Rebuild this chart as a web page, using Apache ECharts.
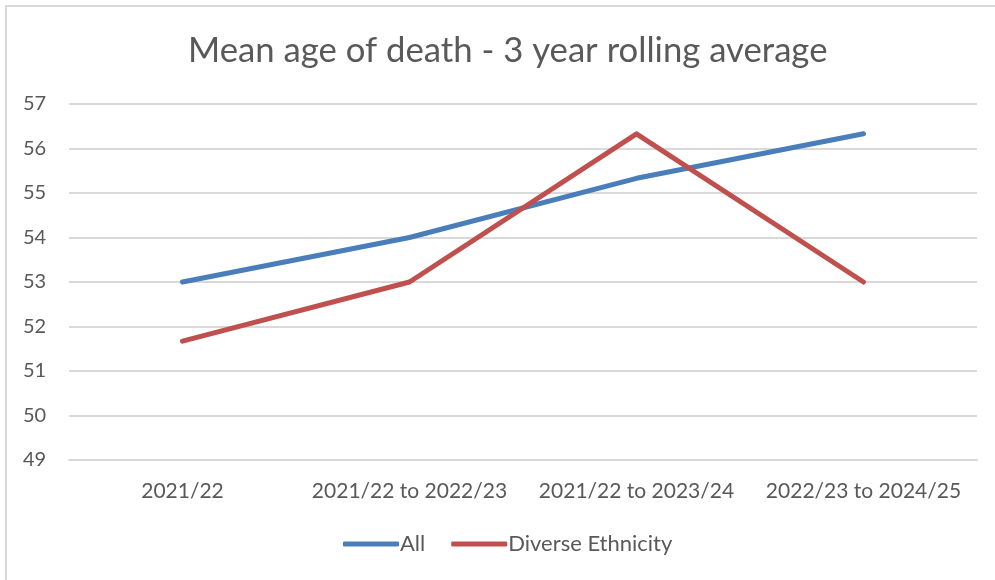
<!DOCTYPE html>
<html>
<head>
<meta charset="utf-8">
<script src="https://cdn.jsdelivr.net/npm/echarts@6/dist/echarts.min.js"></script>
<style>
  html, body { margin: 0; padding: 0; background: #fff; }
  #frame { position: absolute; left: 5px; top: 5px; width: 1000px; height: 590px;
           border-left: 2px solid #d9d9d9; border-top: 2px solid #d9d9d9; }
  #chart { position: absolute; left: 0; top: 0; width: 995px; height: 580px; }
</style>
</head>
<body>
<div id="frame"></div>
<div id="chart"></div>
<script>
const categories = ['2021/22', '2021/22 to 2022/23', '2021/22 to 2023/24', '2022/23 to 2024/25'];
const allValues = [53.0, 54.0, 55.33, 56.33];
const diverseValues = [51.67, 53.0, 56.33, 53.0];
const seriesNames = ['All', 'Diverse Ethnicity'];

const FONT = 'Lato, "Open Sans", sans-serif';
const TEXT = '#595959';

const chart = echarts.init(document.getElementById('chart'), null, { renderer: 'canvas' });
chart.setOption({
  backgroundColor: 'transparent',
  animation: false,
  title: {
    text: 'Mean age of death - 3 year rolling average',
    left: 183,
    top: 28,
    textStyle: { fontFamily: FONT, fontSize: 34.7, fontWeight: 'normal', color: TEXT }
  },
  legend: {
    bottom: 20,
    left: 338,
    itemWidth: 56,
    itemHeight: 5,
    itemGap: 26,
    icon: 'roundRect',
    textStyle: { fontFamily: FONT, fontSize: 22, color: TEXT, padding: [0, 0, 0, -4] },
    data: seriesNames
  },
  grid: { left: 69, right: 18, top: 104, bottom: 120 },
  xAxis: {
    type: 'category',
    data: categories,
    boundaryGap: true,
    axisLine: { show: true, lineStyle: { color: '#d9d9d9', width: 2 } },
    axisTick: { show: false },
    axisLabel: { interval: 0, fontFamily: FONT, fontSize: 21, color: TEXT, margin: 21 }
  },
  yAxis: {
    type: 'value',
    min: 49,
    max: 57,
    interval: 1,
    axisLine: { show: false },
    axisTick: { show: false },
    axisLabel: { fontFamily: FONT, fontSize: 20, color: TEXT, margin: 46, align: 'left' },
    splitLine: { lineStyle: { color: '#d9d9d9', width: 2 } }
  },
  series: [
    {
      name: seriesNames[0], type: 'line', data: allValues,
      symbol: 'none', lineStyle: { color: '#4a7ebb', width: 5, cap: 'round', join: 'round' },
      itemStyle: { color: '#4a7ebb' }
    },
    {
      name: seriesNames[1], type: 'line', data: diverseValues,
      symbol: 'none', lineStyle: { color: '#c0504d', width: 5, cap: 'round', join: 'round' },
      itemStyle: { color: '#c0504d' }
    }
  ]
});
</script>
</body>
</html>
